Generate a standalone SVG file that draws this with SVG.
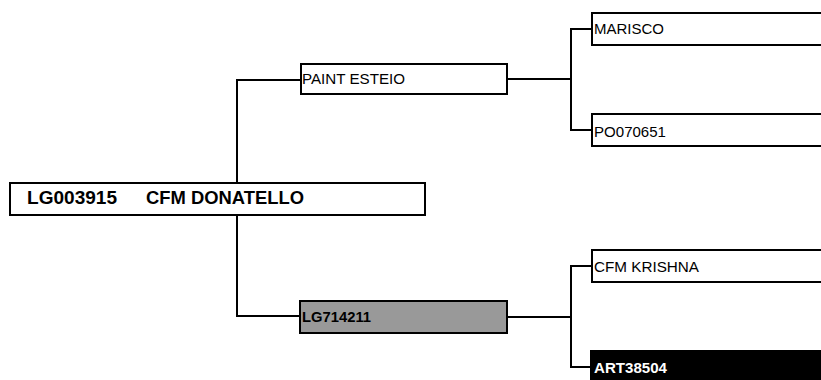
<svg xmlns="http://www.w3.org/2000/svg" width="821" height="380" viewBox="0 0 821 380">
<style>
.box{fill:#fff;stroke:#000;stroke-width:2}
.gray{fill:#999;stroke:#000;stroke-width:2}
.blk{fill:#000;stroke:#000;stroke-width:2}
.t{font-family:"Liberation Sans",Arial,sans-serif;font-size:14.5px;fill:#000}
.b{font-family:"Liberation Sans",Arial,sans-serif;font-size:14px;font-weight:bold;fill:#000}
.r{font-family:"Liberation Sans",Arial,sans-serif;font-size:17.5px;font-weight:bold;fill:#000}
.w{fill:#fff}
.c{fill:none;stroke:#000;stroke-width:2}
</style>
<rect width="821" height="380" fill="#fff"/>
<g id="connectors">
<path class="c" d="M237,183 V80 H301"/>
<path class="c" d="M237,215 V316 H300"/>
<path class="c" d="M507,79 H571"/>
<path class="c" d="M592,29 H571 V130 H592"/>
<path class="c" d="M507,317 H571"/>
<path class="c" d="M592,266 H571 V367 H592"/>
</g>
<g id="root">
<rect class="box" x="10" y="183" width="415" height="32"/>
<text class="r" x="27" y="204" textLength="90" lengthAdjust="spacingAndGlyphs">LG003915</text>
<text class="r" x="146" y="204" textLength="158" lengthAdjust="spacingAndGlyphs">CFM DONATELLO</text>
</g>
<g id="paint-esteio">
<rect class="box" x="301" y="64" width="206" height="30"/>
<text class="t" x="302" y="84" textLength="103" lengthAdjust="spacingAndGlyphs">PAINT ESTEIO</text>
</g>
<g id="lg714211">
<rect class="gray" x="300" y="301" width="207" height="32"/>
<text class="b" x="302" y="322" textLength="69" lengthAdjust="spacingAndGlyphs">LG714211</text>
</g>
<g id="marisco">
<rect class="box" x="592" y="13" width="240" height="32"/>
<text class="t" x="594" y="34" textLength="70" lengthAdjust="spacingAndGlyphs">MARISCO</text>
</g>
<g id="po070651">
<rect class="box" x="592" y="114" width="240" height="32"/>
<text class="t" x="594" y="137" textLength="72" lengthAdjust="spacingAndGlyphs">PO070651</text>
</g>
<g id="cfm-krishna">
<rect class="box" x="592" y="250" width="240" height="32"/>
<text class="t" x="594" y="272" textLength="105" lengthAdjust="spacingAndGlyphs">CFM KRISHNA</text>
</g>
<g id="art38504">
<rect class="blk" x="591" y="351" width="240" height="40"/>
<text class="b w" x="594" y="373" textLength="73" lengthAdjust="spacingAndGlyphs">ART38504</text>
</g>
</svg>
